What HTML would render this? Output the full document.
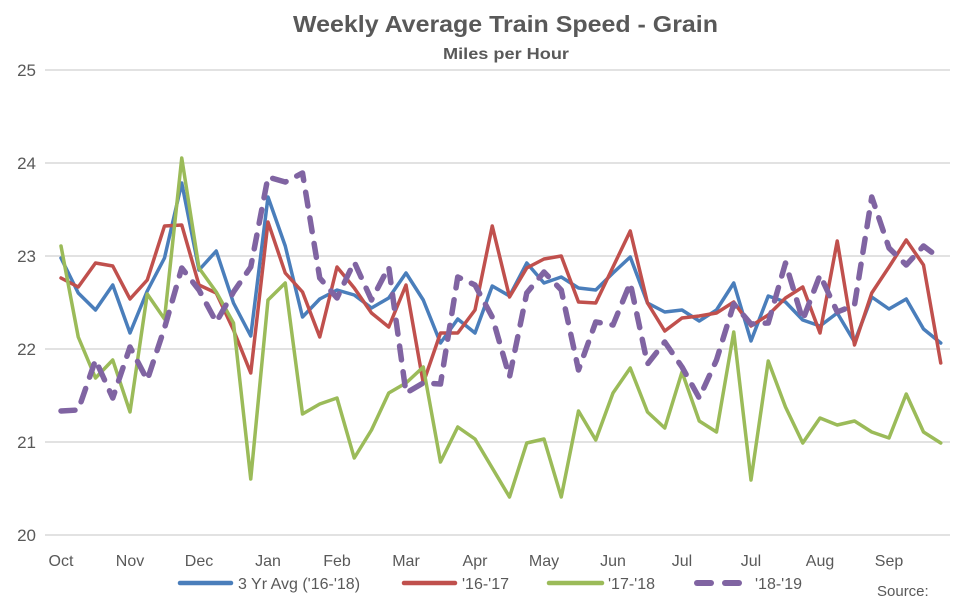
<!DOCTYPE html>
<html>
<head>
<meta charset="utf-8">
<style>
  html, body { margin: 0; padding: 0; background: #ffffff; }
  svg { display: block; }
  text { font-family: "Liberation Sans", Arial, sans-serif; fill: #595959; }
</style>
</head>
<body>
<svg width="975" height="601" viewBox="0 0 975 601" xmlns="http://www.w3.org/2000/svg">
  <rect x="0" y="0" width="975" height="601" fill="#ffffff"/>

  <!-- Title -->
  <text x="505.5" y="32" text-anchor="middle" font-size="23" font-weight="bold" textLength="425" lengthAdjust="spacingAndGlyphs">Weekly Average Train Speed - Grain</text>
  <text x="506" y="59" text-anchor="middle" font-size="16" font-weight="bold" textLength="126" lengthAdjust="spacingAndGlyphs">Miles per Hour</text>

  <!-- Gridlines -->
  <g stroke="#d9d9d9" stroke-width="1.5">
    <line x1="45" y1="70" x2="950" y2="70"/>
    <line x1="45" y1="163" x2="950" y2="163"/>
    <line x1="45" y1="256" x2="950" y2="256"/>
    <line x1="45" y1="349" x2="950" y2="349"/>
    <line x1="45" y1="442" x2="950" y2="442"/>
    <line x1="45" y1="535" x2="950" y2="535"/>
  </g>

  <!-- Y labels -->
  <g font-size="17" text-anchor="end">
    <text x="36" y="76">25</text>
    <text x="36" y="169">24</text>
    <text x="36" y="262">23</text>
    <text x="36" y="355">22</text>
    <text x="36" y="448">21</text>
    <text x="36" y="541">20</text>
  </g>

  <!-- X labels -->
  <g font-size="16" text-anchor="middle">
    <text x="61" y="566">Oct</text>
    <text x="130" y="566">Nov</text>
    <text x="199" y="566">Dec</text>
    <text x="268" y="566">Jan</text>
    <text x="337" y="566">Feb</text>
    <text x="406" y="566">Mar</text>
    <text x="475" y="566">Apr</text>
    <text x="544" y="566">May</text>
    <text x="613" y="566">Jun</text>
    <text x="682" y="566">Jul</text>
    <text x="751" y="566">Jul</text>
    <text x="820" y="566">Aug</text>
    <text x="889" y="566">Sep</text>
  </g>

  <!-- Series -->
  <g fill="none" stroke-linejoin="round" stroke-linecap="round">
    <!-- 3 Yr Avg -->
    <polyline stroke="#4a7ebb" stroke-width="3.5" points="61,258 78.25,293 95.5,310 112.75,285 130,333 147.25,291 164.5,258 181.75,183 199,270 216.25,251 233.5,303 250.75,336 268,197 285.25,246 302.5,317 319.75,299 337,290 354.25,295 371.5,308 388.75,298 406,273 423.25,300 440.5,343 457.75,319 475,333 492.25,286 509.5,296 526.75,263 544,283 561.25,277 578.5,288 595.75,290 613,273 630.25,257 647.5,303 664.75,312 682,310 699.25,321 716.5,310 733.75,283 751,341 768.25,296 785.5,302 802.75,320 820,326 837.25,313 854.5,342 871.75,297 889,309 906.25,299 923.5,329 940.75,343"/>
    <!-- '16-'17 -->
    <polyline stroke="#c0504d" stroke-width="3.5" points="61,278 78.25,287 95.5,263 112.75,266 130,299 147.25,280 164.5,226 181.75,225 199,285 216.25,293 233.5,330 250.75,373 268,222 285.25,273 302.5,292 319.75,337 337,267 354.25,288 371.5,313 388.75,327 406,285 423.25,383 440.5,333 457.75,333 475,310 492.25,226 509.5,297 526.75,268 544,259 561.25,256 578.5,302 595.75,303 613,267 630.25,231 647.5,303 664.75,331 682,318 699.25,316 716.5,313 733.75,302 751,326 768.25,315 785.5,298 802.75,287 820,333 837.25,241 854.5,345 871.75,293 889,267 906.25,240 923.5,265 940.75,363"/>
    <!-- '17-'18 -->
    <polyline stroke="#9bbb59" stroke-width="3.5" points="61,246 78.25,337 95.5,378 112.75,360 130,412 147.25,294 164.5,319 181.75,158 199,268 216.25,292 233.5,323 250.75,479 268,300 285.25,283 302.5,414 319.75,404 337,398 354.25,458 371.5,430 388.75,393 406,383 423.25,367 440.5,462 457.75,427 475,439 492.25,468 509.5,497 526.75,443 544,439 561.25,497 578.5,411 595.75,440 613,393 630.25,368 647.5,412 664.75,428 682,372 699.25,421 716.5,432 733.75,332 751,480 768.25,361 785.5,407 802.75,443 820,418 837.25,425 854.5,421 871.75,432 889,438 906.25,394 923.5,432 940.75,443"/>
    <!-- '18-'19 -->
    <polyline stroke="#8064a2" stroke-width="5.5" stroke-dasharray="14 12" points="61,411 78.25,410 95.5,360 112.75,398 130,347 147.25,380 164.5,328 181.75,268 199,290 216.25,322 233.5,292 250.75,267 268,177 285.25,182 302.5,173 319.75,278 337,298 354.25,262 371.5,300 388.75,267 406,393 423.25,383 440.5,384 457.75,277 475,285 492.25,317 509.5,377 526.75,293 544,272 561.25,290 578.5,370 595.75,322 613,325 630.25,283 647.5,364 664.75,342 682,367 699.25,398 716.5,360 733.75,304 751,324 768.25,323 785.5,263 802.75,320 820,275 837.25,312 854.5,305 871.75,197 889,248 906.25,265 923.5,246 940.75,259"/>
  </g>

  <!-- Legend -->
  <g stroke-linecap="round" fill="none">
    <line x1="180" y1="583" x2="231" y2="583" stroke="#4a7ebb" stroke-width="4.5"/>
    <line x1="404" y1="583" x2="455" y2="583" stroke="#c0504d" stroke-width="4.5"/>
    <line x1="549" y1="583" x2="602" y2="583" stroke="#9bbb59" stroke-width="4.5"/>
    <line x1="697" y1="583" x2="711" y2="583" stroke="#8064a2" stroke-width="6"/>
    <line x1="725" y1="583" x2="739" y2="583" stroke="#8064a2" stroke-width="6"/>
  </g>
  <g font-size="16">
    <text x="238" y="589">3 Yr Avg ('16-'18)</text>
    <text x="462" y="589">'16-'17</text>
    <text x="608" y="589">'17-'18</text>
    <text x="755" y="589">'18-'19</text>
  </g>
  <text x="877" y="596" font-size="15">Source:</text>
</svg>
</body>
</html>
